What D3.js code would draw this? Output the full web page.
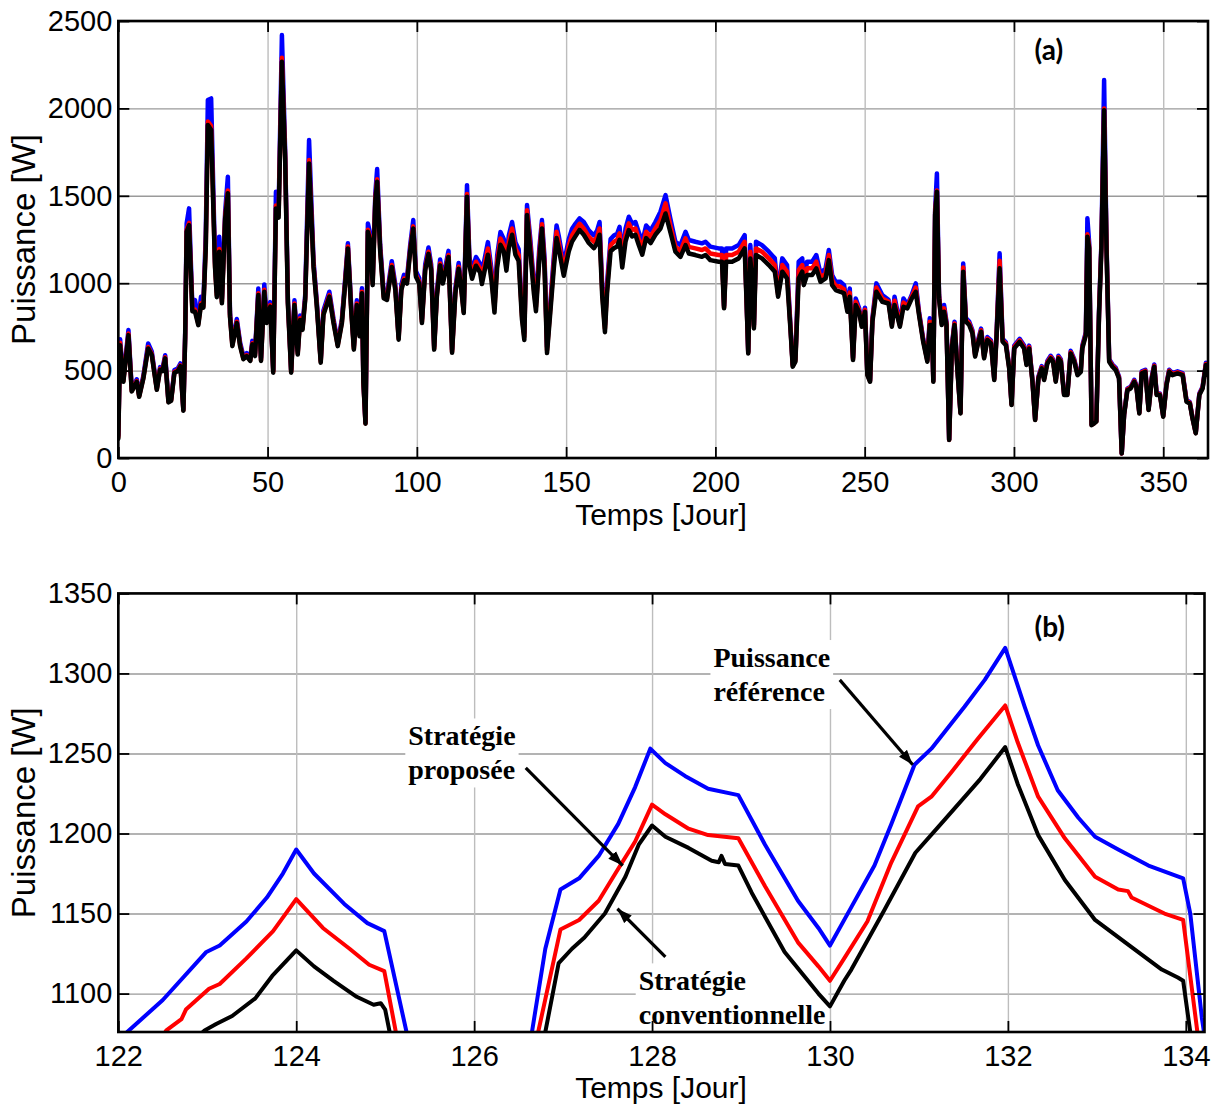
<!DOCTYPE html>
<html>
<head>
<meta charset="utf-8">
<script src="https://cdn.jsdelivr.net/npm/d3@7"></script>
<style>
  body { margin: 0; background: #fff; }
  svg { display: block; }
</style>
</head>
<body>
<svg id="chart" width="1216" height="1110"></svg>
<script>
// ---------- (a) whole year, daily power ----------
const yearDays = [
  0, 0.6, 1.7, 3.4, 4.5, 6.2, 7, 8.4, 10, 11.2,
  12.9, 14, 14.8, 15.7, 16.8, 17.7, 18.8, 19.9, 20.8, 21.8,
  22.4, 22.9, 23.7, 24.8, 25.7, 26.8, 27.7, 28.5, 29.3, 30,
  31.1, 32.4, 33, 33.8, 34.7, 35.8, 36.7, 37.4, 38.2, 39.7,
  40.8, 41.9, 43, 44.2, 44.9, 45.8, 46.9, 47.8, 48.9, 49.7,
  50.9, 51.9, 52.8, 53.7, 54.8, 55.9, 56.8, 57.9, 59, 60.1,
  60.9, 61.7, 62.6, 63.9, 65.4, 66.5, 67.8, 68.7, 70.7, 72.1,
  73.5, 74.9, 76, 76.9, 78, 78.9, 79.9, 80.8, 81.6, 82.1,
  82.8, 83.6, 84.4, 85.2, 86.1, 86.7, 87.7, 88.9, 90, 90.7,
  91.6, 92.8, 93.9, 94.8, 95.7, 96.7, 97.8, 98.8, 99.7, 100.8,
  101.7, 102.8, 103.9, 104.8, 105.8, 106.7, 107.8, 108.7, 109.7, 110.6,
  111.8, 112.9, 114, 114.9, 115.7, 116.8, 117.6, 118.5, 119.8, 121.2,
  121.8, 123.8, 125, 126, 126.9, 128, 129.1, 130, 130.8, 131.9,
  133, 134.1, 135.2, 136, 136.9, 138, 139.2, 139.9, 141, 141.9,
  142.8, 143.6, 144.7, 145.9, 146.8, 147.5, 149.2, 150.9, 152, 153.1,
  154.5, 155.9, 157.6, 159.3, 160.4, 161.2, 162.1, 163, 163.7, 164.9,
  166, 167.1, 167.9, 168.8, 169.9, 171, 172.1, 173.2, 174.3, 175.5,
  176.8, 178.3, 179.9, 181.6, 183.3, 184.9, 186.6, 188.3, 190, 191.1,
  193.3, 195.5, 196.7, 198.3, 201.1, 202.2, 202.9, 203.6, 205.6, 207.8,
  209.8, 210.4, 211, 211.7, 212.3, 212.9, 213.6, 215.6, 217.9, 219.9,
  221, 222.4, 224, 225.2, 225.9, 226.8, 227.9, 229.1, 229.6, 230.7,
  232.4, 233.8, 235.2, 236.9, 238, 239.1, 240.3, 241.9, 243.1, 244.2,
  245, 246.1, 247, 248.1, 249, 250.1, 250.9, 251.8, 252.6, 253.9,
  255.9, 258, 259.1, 260, 261.8, 263, 264.3, 265.8, 267.1, 268.2,
  269.6, 271, 271.8, 272.5, 273, 273.6, 274.2, 274.9, 275.8, 276.6,
  277.4, 278.3, 279.2, 280.1, 281.1, 282.1, 283, 283.9, 285, 286.1,
  287, 288.1, 289, 290, 291.1, 292.3, 293.4, 294.2, 295.2, 296.2,
  297.3, 298.4, 299.2, 300.1, 301.9, 303.4, 304.2, 305.1, 306.2, 307.1,
  308.2, 309.3, 310.1, 311.2, 312.3, 313.1, 314, 314.9, 315.7, 316.8,
  317.9, 319, 320.2, 321.3, 322.4, 322.9, 324.1, 324.6, 325.2, 326,
  326.9, 327.6, 328.5, 329.3, 330.2, 331, 331.9, 333, 334.1, 335.2,
  336.1, 336.9, 338, 339.1, 340.3, 341, 342, 342.8, 344, 345.1,
  346.2, 347, 347.8, 348.9, 350, 351.1, 352, 353.1, 354.8, 356.5,
  357.8, 358.9, 359.8, 360.9, 362.1, 363.2, 364.3, 365
];

// Puissance référence
const yearRef = [
  130, 680, 450, 732, 392, 450, 360, 470, 655, 610,
  402, 520, 510, 588, 328, 337, 503, 512, 541, 280,
  712, 1342, 1428, 868, 903, 785, 923, 888, 1280, 2048,
  2057, 1125, 950, 1266, 912, 1410, 1609, 835, 660, 795,
  660, 582, 600, 572, 670, 600, 970, 572, 993, 795,
  892, 503, 1523, 1418, 2420, 1752, 912, 503, 902, 610,
  815, 755, 931, 1819, 1126, 892, 562, 843, 951, 795,
  660, 795, 1028, 1228, 873, 640, 902, 718, 971, 445,
  204, 1342, 1281, 1019, 1515, 1653, 1223, 942, 932, 1019,
  1126, 990, 698, 990, 1048, 1028, 1223, 1361, 1068, 1028,
  795, 1107, 1204, 1107, 640, 951, 1135, 1028, 1107, 1185,
  620, 971, 1116, 990, 854, 1561, 1150, 1070, 1150, 1110,
  1060, 1235, 1080, 880, 1158, 1293, 1253, 1138, 1273, 1350,
  1235, 1195, 842, 715, 1447, 1253, 998, 890, 1195, 1361,
  1138, 635, 880, 1158, 1330, 1273, 1108, 1253, 1312, 1340,
  1371, 1350, 1302, 1273, 1302, 1350, 980, 762, 998, 1253,
  1273, 1283, 1322, 1158, 1312, 1380, 1340, 1350, 1293, 1235,
  1330, 1302, 1350, 1409, 1504, 1371, 1237, 1218, 1294, 1247,
  1237, 1228, 1237, 1209, 1199, 1199, 870, 1199, 1199, 1218,
  1275, 930, 610, 1218, 1030, 760, 1237, 1218, 1180, 1142,
  945, 1142, 1104, 740, 535, 565, 1123, 1142, 1010, 1123,
  1123, 1161, 1056, 1085, 1190, 1047, 1008, 1008, 989, 860,
  970, 575, 913, 860, 770, 860, 485, 446, 800, 999,
  932, 905, 770, 923, 770, 913, 876, 935, 999, 838,
  682, 565, 799, 780, 447, 1420, 1628, 935, 780, 875,
  780, 106, 643, 780, 505, 262, 1113, 800, 780, 731,
  595, 682, 740, 585, 692, 673, 457, 720, 1171, 682,
  662, 526, 311, 643, 682, 643, 545, 643, 447, 222,
  466, 526, 457, 555, 585, 565, 447, 585, 565, 369,
  369, 613, 565, 486, 505, 643, 720, 1371, 1230, 193,
  203, 213, 838, 1230, 2162, 1230, 565, 535, 516, 466,
  27, 252, 398, 408, 447, 418, 262, 496, 505, 281,
  466, 535, 369, 369, 242, 427, 505, 486, 496, 486,
  330, 320, 233, 145, 369, 408, 545, 486
];

// Stratégie proposée
const yearProp = [
  120, 660, 440, 712, 384, 440, 354, 460, 635, 596,
  394, 510, 502, 576, 322, 330, 493, 502, 530, 274,
  697, 1306, 1345, 850, 850, 768, 885, 868, 1220, 1925,
  1900, 1100, 930, 1195, 893, 1385, 1530, 818, 646, 780,
  646, 570, 589, 560, 656, 589, 942, 560, 962, 780,
  875, 493, 1445, 1390, 2290, 1717, 893, 493, 884, 598,
  799, 741, 913, 1705, 1104, 875, 551, 827, 932, 780,
  646, 780, 1008, 1210, 856, 627, 884, 703, 951, 436,
  198, 1306, 1256, 999, 1485, 1595, 1199, 923, 913, 999,
  1104, 970, 684, 970, 1027, 1008, 1199, 1325, 1047, 1008,
  780, 1085, 1180, 1085, 627, 932, 1113, 1008, 1085, 1161,
  608, 951, 1094, 970, 837, 1510, 1123, 1047, 1123, 1085,
  1027, 1199, 1047, 856, 1123, 1256, 1218, 1104, 1237, 1313,
  1199, 1161, 818, 694, 1418, 1218, 970, 865, 1161, 1337,
  1104, 617, 856, 1123, 1294, 1237, 1075, 1218, 1275, 1304,
  1340, 1313, 1266, 1237, 1266, 1313, 951, 741, 970, 1218,
  1237, 1247, 1285, 1123, 1275, 1342, 1304, 1313, 1256, 1199,
  1294, 1266, 1313, 1360, 1457, 1330, 1208, 1185, 1256, 1208,
  1199, 1190, 1199, 1170, 1161, 1161, 862, 1161, 1161, 1180,
  1237, 920, 604, 1180, 1020, 750, 1199, 1180, 1142, 1104,
  935, 1104, 1066, 730, 528, 558, 1075, 1104, 1000, 1085,
  1085, 1123, 1032, 1056, 1161, 1018, 985, 980, 965, 848,
  946, 567, 894, 848, 760, 848, 480, 441, 790, 975,
  913, 894, 760, 899, 760, 889, 866, 924, 975, 828,
  673, 558, 780, 770, 441, 1405, 1530, 924, 770, 856,
  770, 104, 635, 770, 499, 258, 1090, 790, 770, 722,
  587, 673, 731, 577, 683, 664, 451, 711, 1128, 673,
  654, 519, 307, 635, 673, 635, 538, 635, 441, 219,
  460, 519, 451, 548, 577, 558, 441, 577, 558, 364,
  364, 605, 558, 480, 499, 635, 711, 1280, 1214, 190,
  200, 210, 828, 1214, 2000, 1214, 558, 528, 509, 460,
  26, 249, 393, 403, 441, 413, 258, 490, 499, 277,
  460, 528, 364, 364, 239, 422, 499, 480, 490, 480,
  326, 316, 230, 143, 364, 403, 538, 480
];

// Stratégie conventionnelle
const yearConv = [
  110, 645, 436, 703, 380, 436, 350, 455, 627, 590,
  390, 505, 497, 570, 318, 327, 488, 497, 525, 270,
  690, 1294, 1332, 840, 837, 760, 875, 860, 1200, 1905,
  1876, 1090, 920, 1180, 885, 1370, 1514, 810, 640, 772,
  640, 565, 583, 555, 650, 583, 932, 555, 951, 772,
  866, 488, 1428, 1375, 2267, 1700, 885, 488, 875, 592,
  790, 733, 903, 1685, 1093, 866, 545, 818, 923, 772,
  640, 772, 998, 1199, 847, 620, 875, 696, 942, 432,
  196, 1294, 1243, 989, 1470, 1580, 1187, 914, 904, 989,
  1093, 960, 677, 960, 1017, 998, 1187, 1313, 1037, 998,
  772, 1074, 1168, 1074, 620, 923, 1102, 998, 1074, 1150,
  602, 942, 1083, 960, 829, 1495, 1100, 1025, 1100, 1060,
  995, 1163, 1015, 832, 1090, 1220, 1183, 1072, 1200, 1277,
  1163, 1127, 795, 675, 1390, 1183, 942, 840, 1127, 1313,
  1072, 600, 832, 1090, 1258, 1200, 1043, 1183, 1238, 1268,
  1305, 1277, 1230, 1200, 1230, 1277, 922, 720, 942, 1183,
  1200, 1210, 1248, 1090, 1238, 1304, 1268, 1277, 1220, 1163,
  1258, 1230, 1277, 1313, 1399, 1294, 1180, 1151, 1218, 1170,
  1161, 1151, 1161, 1132, 1123, 1123, 856, 1123, 1123, 1142,
  1199, 913, 598, 1142, 1008, 741, 1161, 1142, 1104, 1066,
  923, 1066, 1027, 722, 522, 551, 1027, 1066, 989, 1047,
  1047, 1085, 1008, 1027, 1132, 989, 961, 951, 942, 837,
  923, 560, 875, 837, 751, 837, 474, 436, 780, 951,
  894, 884, 751, 875, 751, 865, 856, 913, 951, 818,
  665, 551, 761, 761, 436, 1390, 1523, 913, 761, 837,
  761, 103, 627, 761, 493, 255, 1066, 780, 761, 713,
  580, 665, 722, 570, 675, 656, 446, 703, 1085, 665,
  646, 513, 303, 627, 665, 627, 532, 627, 436, 217,
  455, 513, 446, 541, 570, 551, 436, 570, 551, 360,
  360, 598, 551, 474, 493, 627, 703, 1266, 1199, 188,
  198, 208, 818, 1199, 1990, 1199, 551, 522, 503, 455,
  26, 246, 388, 398, 436, 408, 255, 484, 493, 274,
  455, 522, 360, 360, 236, 417, 493, 474, 484, 474,
  322, 312, 227, 141, 360, 398, 532, 474
];

const yearXTicks = [0, 50, 100, 150, 200, 250, 300, 350];
const yearYTicks = [0, 500, 1000, 1500, 2000, 2500];

// ---------- (b) zoom on days 122 - 134 ----------
const weekRefDays = [
  122.0, 122.1, 122.5, 122.99, 123.14, 123.44, 123.67, 123.85, 124.0, 124.2,
  124.54, 124.8, 124.99, 125.24, 125.5, 126.5, 126.65, 126.8, 126.97, 127.18,
  127.4, 127.62, 127.81, 127.98, 128.15, 128.37, 128.63, 128.97, 129.27, 129.64,
  129.87, 130.0, 130.24, 130.5, 130.69, 130.95, 131.14, 131.51, 131.74, 131.97,
  132.19, 132.34, 132.56, 132.79, 132.98, 133.24, 133.58, 133.97, 134.05, 134.18, 134.3
];
const weekRef = [
  1068, 1076, 1096, 1126, 1130, 1145, 1160, 1175, 1190, 1175,
  1156, 1144, 1139, 1076, 1000, 1000, 1076, 1128, 1165, 1172,
  1186, 1206, 1229, 1253, 1244, 1236, 1228, 1224, 1193, 1158,
  1141, 1130, 1154, 1180, 1206, 1243, 1253, 1279, 1296, 1316,
  1279, 1255, 1227, 1210, 1198, 1190, 1180, 1172, 1150, 1085, 1040
];

const weekPropDays = [
  122.4, 122.54, 122.71, 122.76, 123.02, 123.14, 123.44, 123.74, 124.0, 124.3,
  124.6, 124.82, 124.99, 125.12, 125.4, 126.5, 126.72, 126.97, 127.18, 127.4,
  127.62, 127.81, 128.0, 128.15, 128.41, 128.63, 128.97, 129.27, 129.64, 129.87,
  130.0, 130.16, 130.42, 130.69, 130.99, 131.14, 131.36, 131.66, 131.97, 132.11,
  132.34, 132.64, 132.98, 133.24, 133.35, 133.39, 133.54, 133.76, 133.97, 134.13, 134.3
];
const weekProp = [
  1065, 1077, 1084, 1090, 1103, 1106, 1122, 1139, 1159, 1141,
  1128, 1118, 1114, 1076, 1000, 1000, 1076, 1140, 1146, 1158,
  1178, 1195, 1218, 1212, 1203, 1199, 1197, 1167, 1132, 1117,
  1108, 1122, 1145, 1182, 1217, 1223, 1238, 1259, 1280, 1257,
  1223, 1197, 1173, 1165, 1164, 1160, 1156, 1150, 1146, 1076, 1030
];

const weekConvDays = [
  122.8, 122.97, 123.1, 123.28, 123.54, 123.73, 124.0, 124.2, 124.42, 124.68,
  124.87, 124.95, 125.0, 125.05, 125.3, 126.6, 126.8, 126.95, 127.1, 127.24,
  127.47, 127.7, 127.85, 128.0, 128.15, 128.41, 128.67, 128.75, 128.78, 128.82,
  128.97, 129.12, 129.49, 129.87, 130.0, 130.16, 130.24, 130.61, 130.96, 131.28,
  131.69, 131.97, 132.11, 132.34, 132.64, 132.98, 133.39, 133.73, 133.91, 133.97, 134.05, 134.3
];
const weekConv = [
  1068, 1077, 1081, 1086, 1097, 1111, 1127, 1117, 1108, 1098,
  1093, 1094, 1090, 1076, 1000, 1000, 1076, 1119, 1128, 1135,
  1150, 1173, 1193, 1205, 1198, 1191, 1183, 1182, 1186, 1181,
  1180, 1163, 1126, 1100, 1092, 1108, 1115, 1152, 1188, 1208,
  1234, 1254, 1231, 1199, 1171, 1146, 1129, 1115, 1110, 1108, 1076, 1030
];

const weekXTicks = [122, 124, 126, 128, 130, 132, 134];
const weekYTicks = [1100, 1150, 1200, 1250, 1300, 1350];

// Callout texts (French), anchored in data units of panel (b)
const calloutLines = [
  ["Stratégie", "proposée"],
  ["Puissance", "référence"],
  ["Stratégie", "conventionnelle"]
];
const calloutAnchors = [[125.26, 1255], [128.69, 1304], [127.85, 1102]];
const arrowFrom = [[126.58, 1241], [130.11, 1296], [128.15, 1123]];
const arrowTo   = [[127.67, 1180], [130.93, 1243], [127.61, 1153]];

// ---------- drawing ----------
const COLORS = { ref: "#0000ff", prop: "#ff0000", conv: "#000000" };
const SANS = "'Liberation Sans', Arial, Helvetica, sans-serif";
const SERIF = "'Liberation Serif', 'Times New Roman', serif";
const tickFmt = d3.format("d");

const svg = d3.select("#chart");
const defs = svg.append("defs");
defs.append("marker")
  .attr("id", "arrowHead")
  .attr("viewBox", "0 0 14 10")
  .attr("refX", 14).attr("refY", 5)
  .attr("markerWidth", 15).attr("markerHeight", 11)
  .attr("markerUnits", "userSpaceOnUse")
  .attr("orient", "auto")
  .append("path").attr("d", "M0,0 L14,5 L0,10 Z").attr("fill", "#000");

function drawPanel(cfg) {
  const { id, box, xDomain, yDomain, xTicks, yTicks, series, lineWidth } = cfg;
  const x = d3.scaleLinear().domain(xDomain).range([box.left, box.right]);
  const y = d3.scaleLinear().domain(yDomain).range([box.bottom, box.top]);
  const w = box.right - box.left, h = box.bottom - box.top;

  defs.append("clipPath").attr("id", "clip-" + id)
    .append("rect").attr("x", box.left).attr("y", box.top).attr("width", w).attr("height", h);

  const root = svg.append("g");

  // grid
  const gridY = root.append("g").attr("transform", `translate(${box.left},0)`)
    .call(d3.axisLeft(y).tickValues(yTicks).tickSize(-w).tickFormat(""));
  gridY.select(".domain").remove();
  gridY.selectAll("line").attr("stroke", "#9a9a9a").attr("stroke-width", 1.4);
  const gridX = root.append("g").attr("transform", `translate(0,${box.bottom})`)
    .call(d3.axisBottom(x).tickValues(xTicks).tickSize(-h).tickFormat(""));
  gridX.select(".domain").remove();
  gridX.selectAll("line").attr("stroke", "#bdbdbd").attr("stroke-width", 1.4);

  const bgLayer = root.append("g");
  const lineLayer = root.append("g").attr("clip-path", `url(#clip-${id})`);

  const line = d3.line().x(d => x(d[0])).y(d => y(d[1]));
  series.forEach(s => {
    const pts = s.days.map((d, i) => [d, s.values[i]]);
    lineLayer.append("path")
      .attr("d", line(pts))
      .attr("fill", "none")
      .attr("stroke", s.color)
      .attr("stroke-width", lineWidth)
      .attr("stroke-linejoin", "round")
      .attr("stroke-linecap", "round");
  });

  // frame
  root.append("rect")
    .attr("x", box.left).attr("y", box.top).attr("width", w).attr("height", h)
    .attr("fill", "none").attr("stroke", "#000").attr("stroke-width", 2.6);

  // inward tick marks on all four sides
  const tickLen = 11;
  const tickAxes = [
    [d3.axisBottom(x).tickValues(xTicks), `translate(0,${box.bottom})`],
    [d3.axisTop(x).tickValues(xTicks), `translate(0,${box.top})`],
    [d3.axisLeft(y).tickValues(yTicks), `translate(${box.left},0)`],
    [d3.axisRight(y).tickValues(yTicks), `translate(${box.right},0)`]
  ];
  tickAxes.forEach(([ax, tr]) => {
    const g = root.append("g").attr("transform", tr)
      .call(ax.tickSizeInner(-tickLen).tickSizeOuter(0).tickFormat(""));
    g.select(".domain").remove();
    g.selectAll("line").attr("stroke", "#000").attr("stroke-width", 1.8);
  });

  // tick labels
  const xl = root.append("g").attr("transform", `translate(0,${box.bottom})`)
    .call(d3.axisBottom(x).tickValues(xTicks).tickSize(0).tickPadding(13).tickFormat(tickFmt));
  xl.select(".domain").remove();
  const yl = root.append("g").attr("transform", `translate(${box.left},0)`)
    .call(d3.axisLeft(y).tickValues(yTicks).tickSize(0).tickPadding(6).tickFormat(tickFmt));
  yl.select(".domain").remove();
  [xl, yl].forEach(g => g.attr("font-family", SANS).attr("font-size", 29)
    .selectAll("text").attr("fill", "#000"));

  // axis titles
  root.append("text")
    .attr("transform", `translate(35,${(box.top + box.bottom) / 2}) rotate(-90)`)
    .attr("text-anchor", "middle")
    .attr("font-family", SANS).attr("font-size", 33)
    .text("Puissance [W]");
  root.append("text")
    .attr("x", 661).attr("y", box.bottom + cfg.xTitleOffset)
    .attr("text-anchor", "middle")
    .attr("font-family", SANS).attr("font-size", 30)
    .text("Temps [Jour]");

  // panel tag
  root.append("text")
    .attr("x", x(cfg.tag.at[0])).attr("y", y(cfg.tag.at[1]))
    .attr("text-anchor", "middle")
    .attr("font-family", "Lato, 'Open Sans', sans-serif")
    .attr("font-weight", 700).attr("font-size", 28)
    .text(cfg.tag.text);

  return { root, x, y, bgLayer };
}

drawPanel({
  id: "year",
  box: { left: 118.3, right: 1208, top: 21, bottom: 458 },
  xDomain: [0, 365], yDomain: [0, 2500],
  xTicks: yearXTicks, yTicks: yearYTicks,
  lineWidth: 4.5,
  xTitleOffset: 67,
  tag: { text: "(a)", at: [311.7, 2277] },
  series: [
    { days: yearDays, values: yearRef, color: COLORS.ref },
    { days: yearDays, values: yearProp, color: COLORS.prop },
    { days: yearDays, values: yearConv, color: COLORS.conv }
  ]
});

const week = drawPanel({
  id: "week",
  box: { left: 118.3, right: 1204.5, top: 593.4, bottom: 1032 },
  xDomain: [122, 134.21], yDomain: [1076, 1350],
  xTicks: weekXTicks, yTicks: weekYTicks,
  lineWidth: 4,
  xTitleOffset: 66,
  tag: { text: "(b)", at: [132.47, 1323] },
  series: [
    { days: weekRefDays, values: weekRef, color: COLORS.ref },
    { days: weekPropDays, values: weekProp, color: COLORS.prop },
    { days: weekConvDays, values: weekConv, color: COLORS.conv }
  ]
});

// callouts with arrows
const annoLayer = week.root.append("g");
calloutLines.forEach((lines, i) => {
  const [ax, ay] = calloutAnchors[i];
  const t = annoLayer.append("text")
    .attr("x", week.x(ax)).attr("y", week.y(ay))
    .attr("font-family", SERIF).attr("font-weight", 700).attr("font-size", 28)
    .attr("fill", "#000");
  lines.forEach((s, k) => {
    t.append("tspan").attr("x", week.x(ax)).attr("dy", k === 0 ? 0 : 34).text(s);
  });
  const bb = t.node().getBBox();
  week.bgLayer.append("rect")
    .attr("x", bb.x - 3).attr("y", bb.y - 2)
    .attr("width", bb.width + 6).attr("height", bb.height + 4)
    .attr("fill", "#fff");

  annoLayer.append("line")
    .attr("x1", week.x(arrowFrom[i][0])).attr("y1", week.y(arrowFrom[i][1]))
    .attr("x2", week.x(arrowTo[i][0])).attr("y2", week.y(arrowTo[i][1]))
    .attr("stroke", "#000").attr("stroke-width", 3.2)
    .attr("marker-end", "url(#arrowHead)");
});
</script>
</body>
</html>
